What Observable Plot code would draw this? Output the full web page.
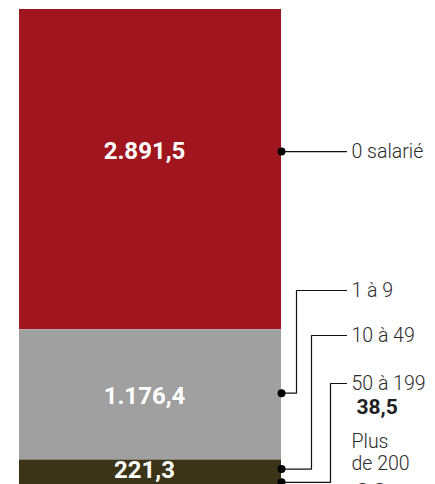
<!DOCTYPE html>
<html><head><meta charset="utf-8">
<script src="https://cdn.jsdelivr.net/npm/d3@7"></script>
<script src="https://cdn.jsdelivr.net/npm/@observablehq/plot@0.6"></script>
<style>
html,body{margin:0;padding:0;background:#fff;overflow:hidden}
#chart svg{display:block;overflow:hidden}
</style></head><body><div id="chart"></div>
<script>
// ---- data ----
const categories = ["0 salarié", "1 à 9", "10 à 49", "50 à 199", "Plus de 200"];
const values = [2891.5, 1176.4, 221.3, 38.5, 8.3];
const valueLabels = ["2.891,5", "1.176,4", "221,3", "38,5", "8,3"];
const labelLines = [["0 salarié"], ["1 à 9"], ["10 à 49"], ["50 à 199"], ["Plus", "de 200"]];
const colors = ["#a1161e", "#a0a0a0", "#3c3418", "#2c2712", "#1c1a10"];

// ---- layout (pixels) ----
const W = 435, H = 484;
const barLeft = 19, barRight = 281;
const yTop = 9, pxPerUnit = 0.11075;
const valueInside = [true, true, true, false, false];
const dotShift = [-18, -1.7, -3.2, -4.3, 0];
const textShift = [-18.8, 1.2, -1.6, 0, 0];
const labelRowY = [151, 290, 335, 383, 441.5];
const labelLineGap = 22;
const valueRowY = [null, null, null, 406.6, 490.5];
const elbowX = [null, 296, 311, 330, null];
const leaderEndX = 346, labelX = 351, valueX = 356;

const total = d3.sum(values);
const cum = d3.cumsum(values);
const toUnits = py => (py - yTop) / pxPerUnit;

const rows = categories.map((c, i) => ({
  cat: c, value: values[i], label: valueLabels[i], color: colors[i],
  y1: cum[i] - values[i], y2: cum[i], mid: cum[i] - values[i] / 2, i
}));

const dots = rows.filter(d => d.i < 4).map(d => ({...d, yd: d.mid + dotShift[d.i] / pxPerUnit}));
const inside = rows.filter(d => valueInside[d.i]).map(d => ({...d, yt: d.mid + textShift[d.i] / pxPerUnit}));

const leaders = [];
dots.forEach(d => {
  const ly = toUnits(labelRowY[d.i]);
  if (elbowX[d.i] == null) {
    leaders.push({cat: d.cat, x: barRight, y: d.yd}, {cat: d.cat, x: leaderEndX, y: d.yd});
  } else {
    leaders.push({cat: d.cat, x: barRight, y: d.yd}, {cat: d.cat, x: elbowX[d.i], y: d.yd},
                 {cat: d.cat, x: elbowX[d.i], y: ly}, {cat: d.cat, x: leaderEndX, y: ly});
  }
});

const catText = [];
labelLines.forEach((lines, i) => lines.forEach((t, k) =>
  catText.push({text: t, y: toUnits(labelRowY[i] + k * labelLineGap)})));
const outsideValues = rows.filter(d => !valueInside[d.i]).map(d => ({text: d.label, y: toUnits(valueRowY[d.i])}));

const chart = Plot.plot({
  width: W, height: H,
  marginTop: 0, marginRight: 0, marginBottom: 0, marginLeft: 0,
  style: {fontFamily: "Roboto, 'Noto Sans', sans-serif", background: "#fff"},
  x: {type: "linear", domain: [0, W], range: [0, W], axis: null},
  y: {type: "linear", domain: [0, total], range: [yTop, yTop + total * pxPerUnit], axis: null},
  marks: [
    Plot.rect(rows, {x1: barLeft, x2: barRight, y1: "y1", y2: "y2", fill: "color"}),
    Plot.text(inside, {x: (barLeft + barRight) / 2, dx: -6, y: "yt", text: "label", fill: "#fff",
      fontSize: 24, fontWeight: 700, textAnchor: "middle"}),
    Plot.line(leaders, {x: "x", y: "y", z: "cat", stroke: "#111", strokeWidth: 1.2, curve: "linear"}),
    Plot.dot(dots, {x: barRight, y: "yd", r: 4, fill: "#000"}),
    Plot.text(catText, {x: labelX, y: "y", text: "text", textAnchor: "start", fontSize: 19.5,
      fontWeight: 300, fill: "#2a2a2a"}),
    Plot.text(outsideValues, {x: valueX, y: "y", text: "text", textAnchor: "start", fontSize: 21,
      fontWeight: 700, fill: "#1e1e1e"})
  ]
});
document.getElementById("chart").appendChild(chart);
</script>
</body></html>
